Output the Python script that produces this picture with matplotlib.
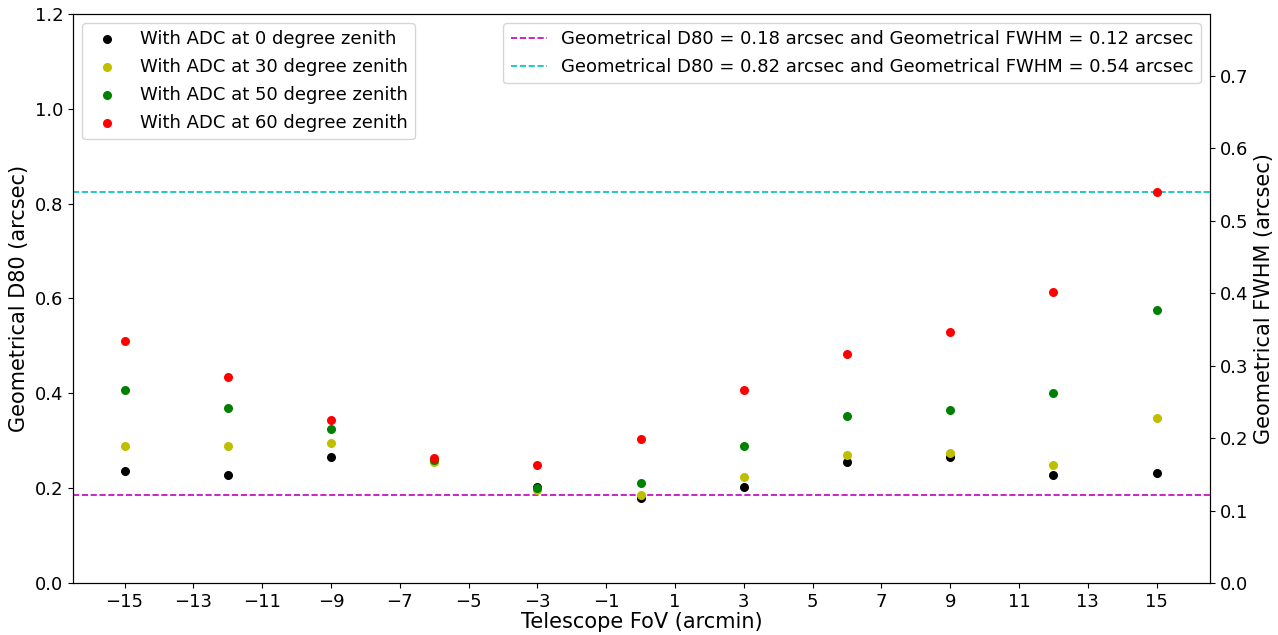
import matplotlib
matplotlib.use("Agg")
import matplotlib.pyplot as plt
import numpy as np

# Field positions (arcmin)
fov = [-15, -12, -9, -6, -3, 0, 3, 6, 9, 12, 15]

# Geometrical D80 (arcsec) for each zenith angle
d80_z0 = [0.236, 0.228, 0.266, 0.257, 0.202, 0.179, 0.202, 0.255, 0.266, 0.228, 0.232]
d80_z30 = [0.289, 0.289, 0.295, 0.255, 0.196, 0.186, 0.224, 0.270, 0.274, 0.249, 0.348]
d80_z50 = [0.407, 0.369, 0.325, 0.259, 0.200, 0.211, 0.289, 0.352, 0.365, 0.401, 0.576]
d80_z60 = [0.510, 0.434, 0.344, 0.264, 0.249, 0.304, 0.407, 0.483, 0.529, 0.614, 0.825]

series = [
    (d80_z0, "k", "With ADC at 0 degree zenith"),
    (d80_z30, "y", "With ADC at 30 degree zenith"),
    (d80_z50, "g", "With ADC at 50 degree zenith"),
    (d80_z60, "r", "With ADC at 60 degree zenith"),
]

# Reference lines
ref_d80 = [0.185, 0.825]
ref_colors = ["m", "c"]
ref_labels = [
    "Geometrical D80 = 0.18 arcsec and Geometrical FWHM = 0.12 arcsec",
    "Geometrical D80 = 0.82 arcsec and Geometrical FWHM = 0.54 arcsec",
]

fig = plt.figure(figsize=(12.78, 6.35), dpi=100)
ax = fig.add_axes([0.0571, 0.0819, 0.8897, 0.8961])

pts = []
for vals, col, lab in series:
    pts.append(ax.scatter(fov, vals, color=col, s=30, label=lab, zorder=3))

lines = []
for v, col, lab in zip(ref_d80, ref_colors, ref_labels):
    lines.append(ax.axhline(v, color=col, linestyle="--", linewidth=1.2, label=lab))

ax.set_xlim(-16.5, 16.55)
ax.set_ylim(0, 1.2)
ax.set_xticks(np.arange(-15, 16, 2))
ax.set_yticks(np.arange(0, 1.21, 0.2))
ax.tick_params(labelsize=13)
ax.set_xlabel("Telescope FoV (arcmin)", fontsize=15, labelpad=1)
ax.set_ylabel("Geometrical D80 (arcsec)", fontsize=15)

ax2 = ax.twinx()
ax2.set_ylim(0, 0.785)
ax2.set_yticks(np.arange(0, 0.71, 0.1))
ax2.tick_params(labelsize=13)
ax2.set_ylabel("Geometrical FWHM (arcsec)", fontsize=15)

leg1 = ax2.legend(handles=pts, loc="upper left", fontsize=13,
                  bbox_to_anchor=(0.0, 1.0), borderaxespad=0.5,
                  labelspacing=0.55, handletextpad=0.8)
ax2.add_artist(leg1)
ax2.legend(handles=lines, loc="upper right", fontsize=13,
           bbox_to_anchor=(1.0, 1.0), borderaxespad=0.5,
           labelspacing=0.55)

fig.savefig("out.png", dpi=100)
